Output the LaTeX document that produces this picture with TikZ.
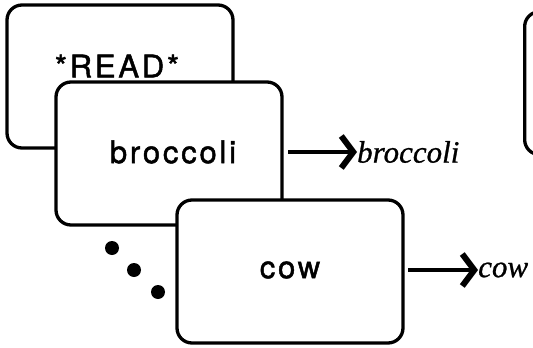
\documentclass[tikz,border=0pt]{standalone}
\usepackage{fontspec}
\usetikzlibrary{arrows.meta}
\newfontfamily\boxfont{TeX Gyre Heros}[LetterSpace=9,FakeBold=1.5]
\newfontfamily\labfont{Liberation Serif}[FakeBold=0.8]
\tikzset{
  card/.style={draw=black, fill=white, line width=3.3pt, rounded corners=15pt,
    minimum width=226pt, minimum height=143pt, inner sep=0pt},
  word/.style={font=\boxfont\fontsize{31pt}{34pt}\selectfont, inner sep=0pt},
  outlab/.style={font=\labfont\itshape\fontsize{31pt}{34pt}\selectfont, inner sep=0pt, anchor=west},
  arr/.style={line width=4pt, -{Straight Barb[length=12pt,width=32pt,line width=6pt]}},
  dotmark/.style={circle, fill=black, minimum size=14pt, inner sep=0pt},
}
\begin{document}
\begin{tikzpicture}[x=1pt,y=-1pt]
\clip (0,0) rectangle (533,348);
\useasboundingbox (0,0) rectangle (533,348);
% partially visible box at top right
\node[card, anchor=north west] (next) at (523,10) {};
% cards
\node[card] (read) at (120,76.5) {};
\node[word] (readt) at (117,66) {*READ*};
\node[card] (broc) at (169,153.5) {};
\node[word] (broct) at (173,152) {broccoli};
\node[card] (cow) at (290,271.5) {};
\node[word] (cowt) at (290,270) {cow};
% outputs
\node[outlab] (brocout) at (357,152) {broccoli};
\node[outlab] (cowout) at (478,270) {cow};
\coordinate (brocstart) at (288,152);
\coordinate (cowstart) at (408,270);
\draw[arr] (brocstart) -- (brocout.west);
\draw[arr] (cowstart) -- (cowout.west);
% ellipsis dots
\node[dotmark] (d1) at (112,248) {};
\node[dotmark] (d2) at (134,270) {};
\node[dotmark] (d3) at (158,292) {};
\end{tikzpicture}
\end{document}
